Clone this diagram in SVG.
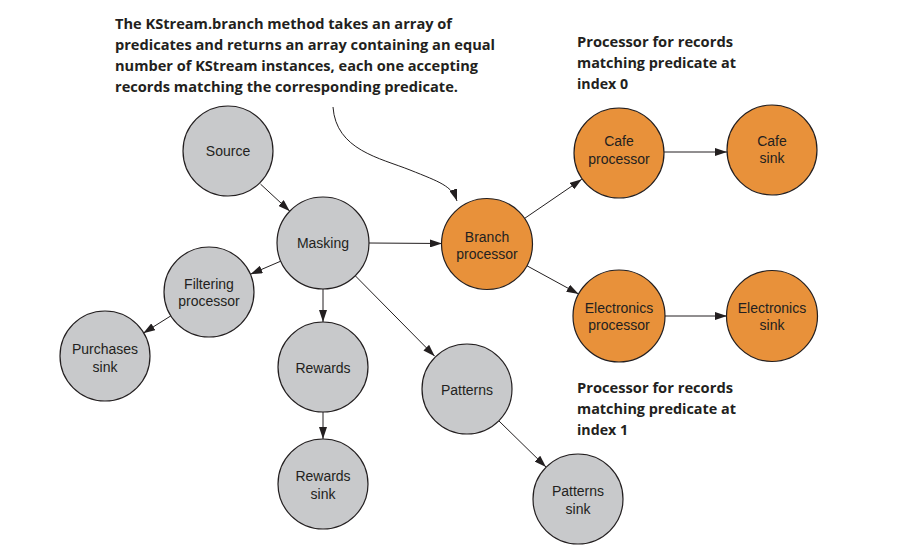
<svg xmlns="http://www.w3.org/2000/svg" width="902" height="558" viewBox="0 0 902 558">
<defs>
<marker id="arr" viewBox="0 0 12 8" refX="12" refY="4" markerWidth="12" markerHeight="8" markerUnits="userSpaceOnUse" orient="auto">
<path d="M0,0 L12,4 L0,8 z" fill="#231f20"/>
</marker>
<style>
.gray{fill:#c8c9cb;stroke:#231f20;stroke-width:1.2}
.orange{fill:#e8913a;stroke:#231f20;stroke-width:1.2}
.lbl{font-family:"Liberation Sans",Arial,sans-serif;font-size:14px;fill:#231f20;text-anchor:middle}
.note{font-family:"Open Sans","Liberation Sans",sans-serif;font-weight:bold;font-size:15px;fill:#231f20}
.edge{stroke:#231f20;stroke-width:1;fill:none;marker-end:url(#arr)}
</style>
</defs>
<rect width="902" height="558" fill="#ffffff"/>

<g id="annotation-top">
<text class="note" x="115" y="29" textLength="337" lengthAdjust="spacingAndGlyphs">The KStream.branch method takes an array of</text>
<text class="note" x="115" y="50" textLength="380" lengthAdjust="spacingAndGlyphs">predicates and returns an array containing an equal</text>
<text class="note" x="115" y="71" textLength="363" lengthAdjust="spacingAndGlyphs">number of KStream instances, each one accepting</text>
<text class="note" x="115" y="92" textLength="343" lengthAdjust="spacingAndGlyphs">records matching the corresponding predicate.</text>
</g>
<g id="annotation-index0">
<text class="note" x="577" y="47" textLength="156" lengthAdjust="spacingAndGlyphs">Processor for records</text>
<text class="note" x="577" y="68" textLength="159" lengthAdjust="spacingAndGlyphs">matching predicate at</text>
<text class="note" x="577" y="89" textLength="51" lengthAdjust="spacingAndGlyphs">index 0</text>
</g>
<g id="annotation-index1">
<text class="note" x="577" y="393" textLength="156" lengthAdjust="spacingAndGlyphs">Processor for records</text>
<text class="note" x="577" y="414" textLength="159" lengthAdjust="spacingAndGlyphs">matching predicate at</text>
<text class="note" x="577" y="435" textLength="51" lengthAdjust="spacingAndGlyphs">index 1</text>
</g>

<g id="connectors">
<path class="edge" d="M333,107 C336,150 380,158 410,170 S452,186 457,201"/>
<line class="edge" x1="260.5" y1="184.1" x2="289.8" y2="211.2"/>
<line class="edge" x1="369" y1="243" x2="442" y2="243.5"/>
<line class="edge" x1="280.7" y1="261.2" x2="250.4" y2="274.2"/>
<line class="edge" x1="170.8" y1="315.9" x2="143.2" y2="333.2"/>
<line class="edge" x1="323" y1="289" x2="323" y2="322"/>
<line class="edge" x1="323" y1="412" x2="323" y2="439"/>
<line class="edge" x1="355.3" y1="275.8" x2="434.7" y2="356.2"/>
<line class="edge" x1="499" y1="421" x2="546" y2="467"/>
<line class="edge" x1="524.6" y1="218.4" x2="581.8" y2="179.3"/>
<line class="edge" x1="527" y1="265.8" x2="578.6" y2="294"/>
<line class="edge" x1="664" y1="152" x2="727" y2="152"/>
<line class="edge" x1="665" y1="316" x2="727" y2="316"/>
</g>

<g id="source">
<circle class="gray" cx="228" cy="151" r="45"/>
<text class="lbl" x="228" y="156">Source</text>
</g>
<g id="masking">
<circle class="gray" cx="323" cy="243" r="46"/>
<text class="lbl" x="323" y="248">Masking</text>
</g>
<g id="filtering">
<circle class="gray" cx="209" cy="292" r="45"/>
<text class="lbl" x="209" y="289">Filtering</text>
<text class="lbl" x="209" y="306">processor</text>
</g>
<g id="purchases-sink">
<circle class="gray" cx="105" cy="356" r="45"/>
<text class="lbl" x="105" y="354">Purchases</text>
<text class="lbl" x="105" y="372">sink</text>
</g>
<g id="rewards">
<circle class="gray" cx="323" cy="367" r="45"/>
<text class="lbl" x="323" y="373">Rewards</text>
</g>
<g id="rewards-sink">
<circle class="gray" cx="323" cy="484" r="45"/>
<text class="lbl" x="323" y="481">Rewards</text>
<text class="lbl" x="323" y="499">sink</text>
</g>
<g id="patterns">
<circle class="gray" cx="467" cy="389" r="45"/>
<text class="lbl" x="467" y="395">Patterns</text>
</g>
<g id="patterns-sink">
<circle class="gray" cx="578" cy="499" r="45"/>
<text class="lbl" x="578" y="496">Patterns</text>
<text class="lbl" x="578" y="514">sink</text>
</g>
<g id="branch">
<circle class="orange" cx="487" cy="244" r="45.5"/>
<text class="lbl" x="487" y="242">Branch</text>
<text class="lbl" x="487" y="259">processor</text>
</g>
<g id="cafe-processor">
<circle class="orange" cx="619" cy="153" r="45"/>
<text class="lbl" x="619" y="146">Cafe</text>
<text class="lbl" x="619" y="164">processor</text>
</g>
<g id="cafe-sink">
<circle class="orange" cx="772" cy="150" r="45"/>
<text class="lbl" x="772" y="146">Cafe</text>
<text class="lbl" x="772" y="163">sink</text>
</g>
<g id="electronics-processor">
<circle class="orange" cx="619" cy="316" r="46"/>
<text class="lbl" x="619" y="313">Electronics</text>
<text class="lbl" x="619" y="330">processor</text>
</g>
<g id="electronics-sink">
<circle class="orange" cx="772" cy="316" r="45.5"/>
<text class="lbl" x="772" y="313">Electronics</text>
<text class="lbl" x="772" y="330">sink</text>
</g>
</svg>
